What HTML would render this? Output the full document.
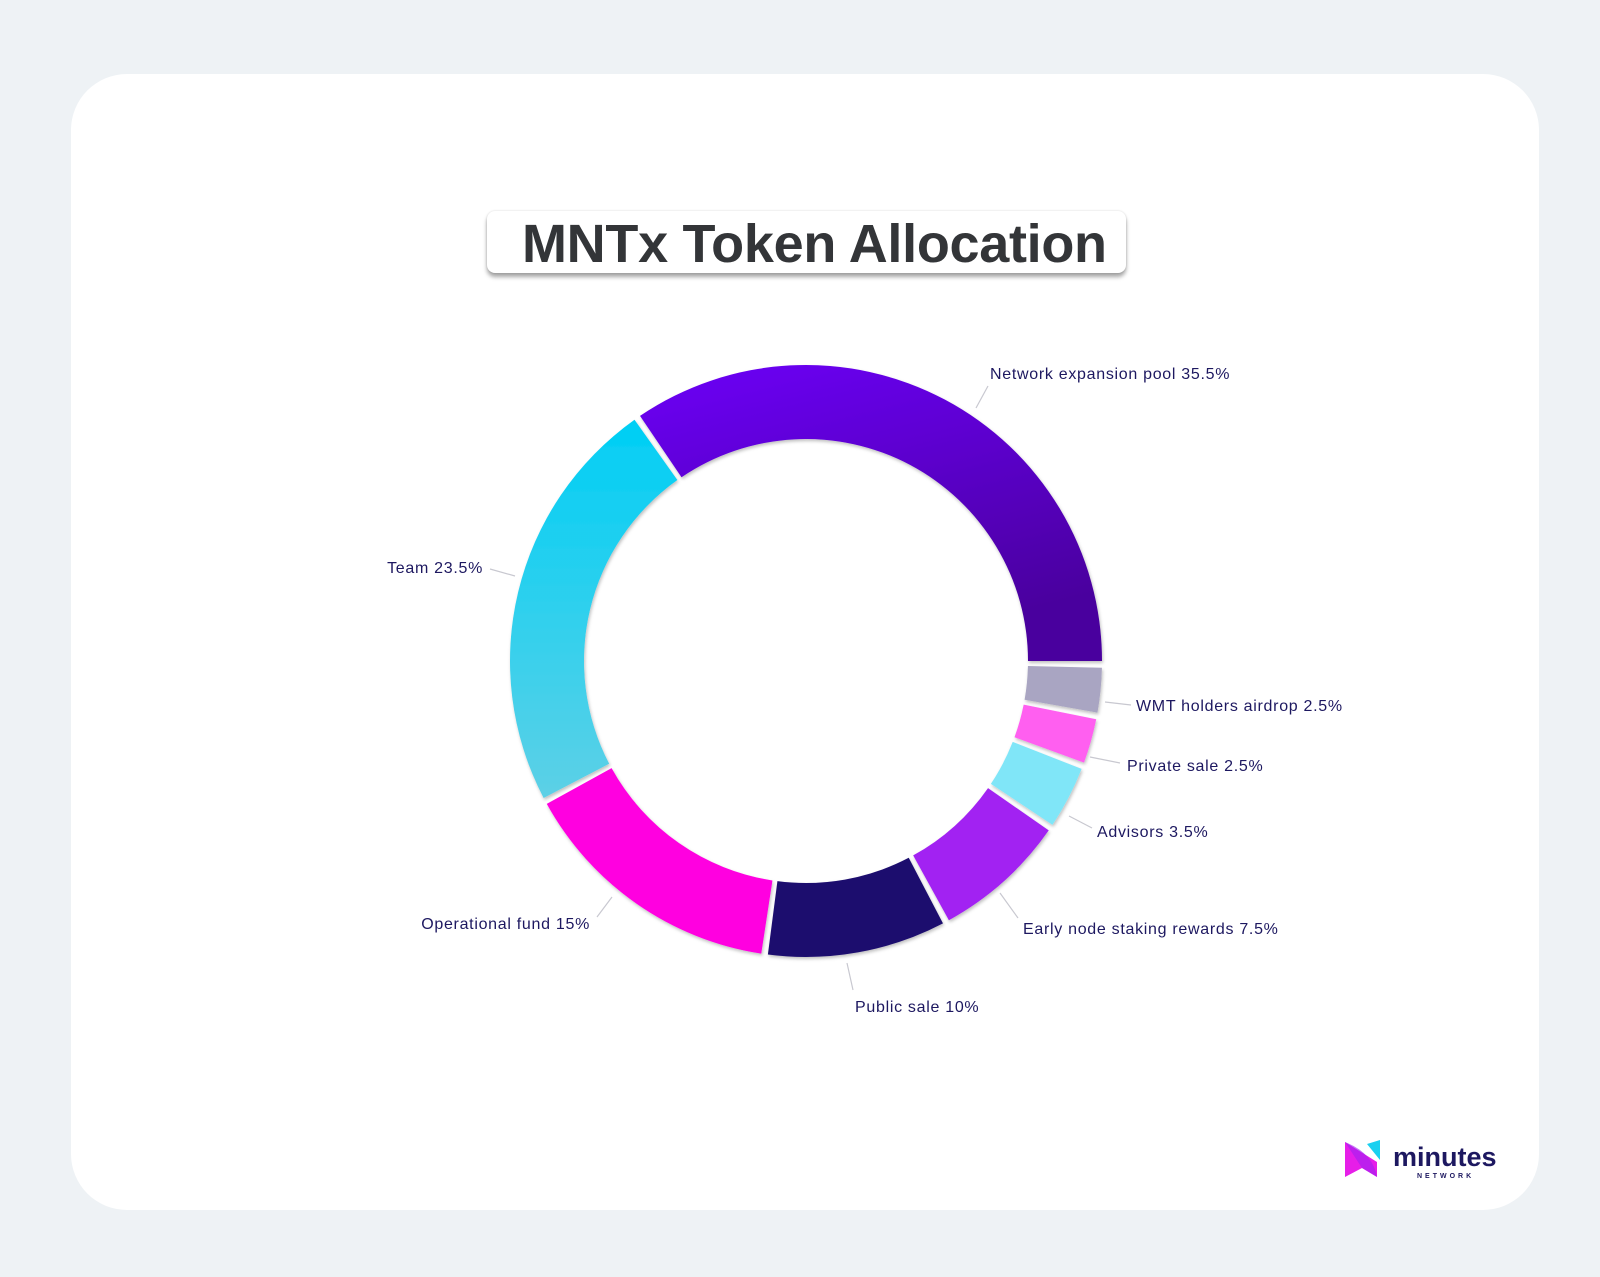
<!DOCTYPE html>
<html><head><meta charset="utf-8"><style>
html,body{margin:0;padding:0;background:#eef2f5;}
body{width:1600px;height:1277px;position:relative;overflow:hidden;font-family:"Liberation Sans",sans-serif;}
.card{position:absolute;left:71px;top:74px;width:1468px;height:1136px;background:#fff;border-radius:56px;}
.title{position:absolute;left:487px;top:211px;width:639px;height:62px;background:#fff;border-radius:8px;box-shadow:0 4px 4px rgba(0,0,0,0.35),0 0 2px rgba(0,0,0,0.15);}
.title span{position:absolute;left:35px;top:2px;font-weight:bold;font-size:54px;color:#333538;letter-spacing:-0.3px;white-space:nowrap;}
svg{position:absolute;left:0;top:0;}
</style></head><body>
<div class="card"></div>
<div class="title"><span>MNTx Token Allocation</span></div>
<svg width="1600" height="1277" viewBox="0 0 1600 1277">
<defs>
<linearGradient id="g0" x1="0" y1="0" x2="0.4" y2="1"><stop offset="0" stop-color="#6c00f8"/><stop offset="1" stop-color="#4a009e"/></linearGradient>
<linearGradient id="g1" x1="0" y1="0" x2="0" y2="1"><stop offset="0" stop-color="#00cff5"/><stop offset="1" stop-color="#5dd0e6"/></linearGradient>
<filter id="sh" x="-10%" y="-10%" width="120%" height="120%"><feDropShadow dx="1" dy="2" stdDeviation="1.5" flood-opacity="0.25"/></filter>
</defs>
<g id="donut" filter="url(#sh)"></g>
<g stroke="#c8c8d0" stroke-width="1.2" fill="none">
<line x1="976" y1="408" x2="988" y2="386"/>
<line x1="490" y1="569" x2="515" y2="576"/>
<line x1="1105" y1="702" x2="1131" y2="705"/>
<line x1="1090" y1="757" x2="1120" y2="763"/>
<line x1="1069" y1="816" x2="1092" y2="828"/>
<line x1="1000" y1="893" x2="1018" y2="918"/>
<line x1="847" y1="963" x2="853" y2="990"/>
<line x1="597" y1="917" x2="612" y2="897"/>
</g>
<g font-family="Liberation Sans, sans-serif" font-size="16" letter-spacing="0.7" fill="#1d1860">
<text x="990" y="379">Network expansion pool 35.5%</text>
<text x="483" y="573" text-anchor="end">Team 23.5%</text>
<text x="1136" y="711">WMT holders airdrop 2.5%</text>
<text x="1127" y="771">Private sale 2.5%</text>
<text x="1097" y="837">Advisors 3.5%</text>
<text x="1023" y="934">Early node staking rewards 7.5%</text>
<text x="855" y="1012">Public sale 10%</text>
<text x="590" y="929" text-anchor="end">Operational fund 15%</text>
</g>
<g transform="translate(1345,1142)">
<path d="M0,0 L32,20 L32,35 L17,26 L0,35 Z" fill="#e61ee8"/>
<path d="M0,0 Q28,11 32,35 L17,26 Z" fill="#a020f0" opacity="0.6"/>
<path d="M22,2 L35,-2 L35,18 Z" fill="#1ad0f0"/>
<text x="48" y="24" font-family="Liberation Sans, sans-serif" font-weight="bold" font-size="27" fill="#1d1860">minutes</text>
<text x="72" y="36" font-family="Liberation Sans, sans-serif" font-weight="bold" font-size="7" letter-spacing="3" fill="#1d1860">NETWORK</text>
</g>
</svg>
<script>
var cx=806,cy=661,R=296,r=222,gap=1.3,sc=(360-8*gap)/360;
var data=[[35.5,'url(#g0)'],[23.5,'url(#g1)'],[15,'#ff00e0'],[10,'#1a0a6e'],[7.5,'#a222f2'],[3.5,'#80e6f8'],[2.5,'#ff5ef0'],[2.5,'#a9a5c2']];
var g=document.getElementById('donut'),a=0;
function p(rad,t){return (cx+rad*Math.cos(t)).toFixed(2)+','+(cy-rad*Math.sin(t)).toFixed(2);}
data.forEach(function(d){
 var sw=d[0]*3.6*sc;
 var s=a*Math.PI/180,e=(a+sw)*Math.PI/180;a+=sw+gap;
 var lg=(e-s)>Math.PI?1:0;
 var path=document.createElementNS('http://www.w3.org/2000/svg','path');
 path.setAttribute('d','M'+p(R,s)+' A'+R+','+R+' 0 '+lg+' 0 '+p(R,e)+' L'+p(r,e)+' A'+r+','+r+' 0 '+lg+' 1 '+p(r,s)+' Z');
 path.setAttribute('fill',d[1]);
 g.appendChild(path);
});
</script>
</body></html>
